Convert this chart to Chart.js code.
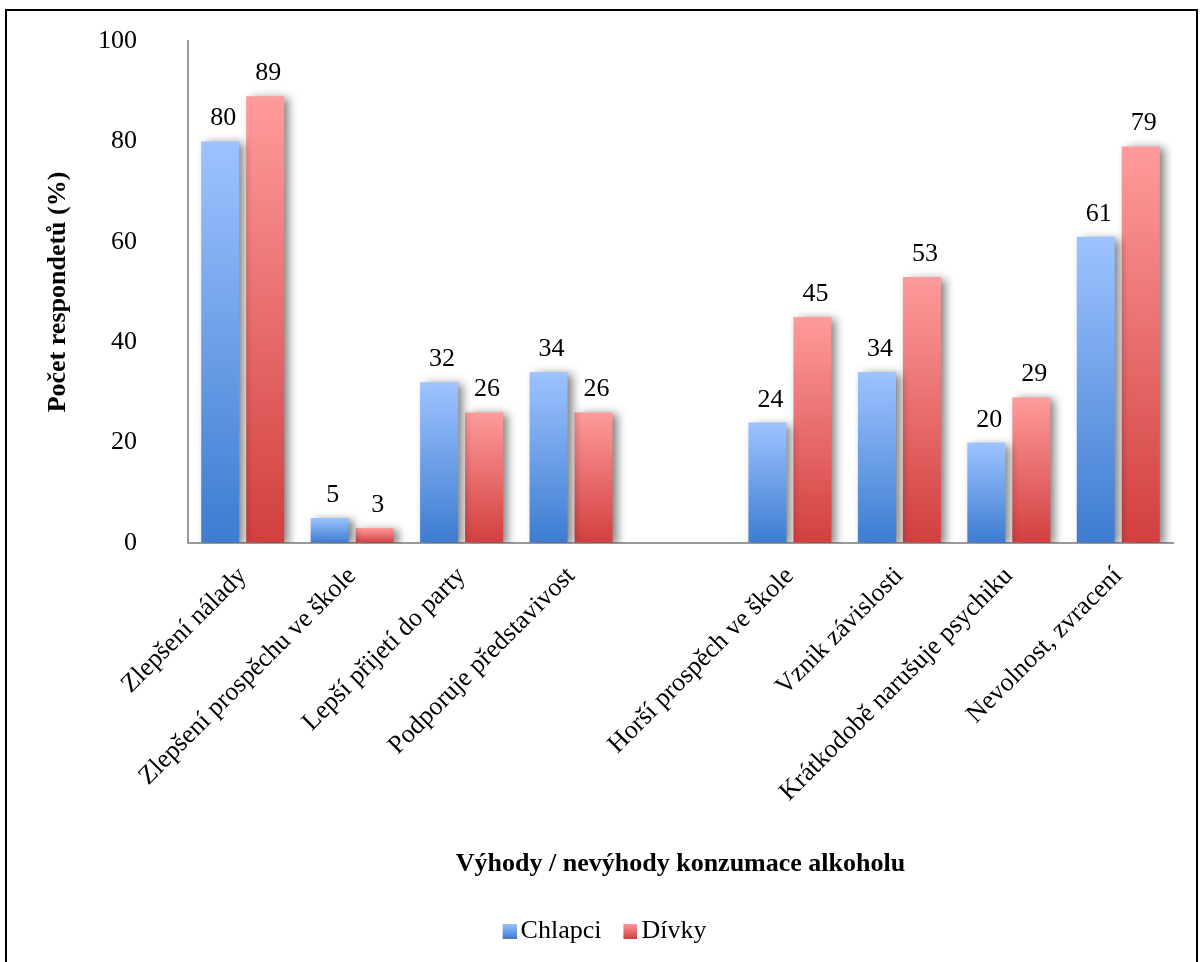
<!DOCTYPE html>
<html>
<head>
<meta charset="utf-8">
<script src="https://cdn.jsdelivr.net/npm/chart.js@4/dist/chart.umd.min.js"></script>
<style>
  html, body { margin: 0; padding: 0; background: #fff; }
  body { width: 1204px; height: 962px; position: relative; overflow: hidden; }
  #frame { position: absolute; left: 5px; top: 9px; width: 1193px; height: 1000px; border: 2px solid #000; box-sizing: border-box; }
  #c { position: absolute; left: 0; top: 0; }
</style>
</head>
<body>
<div id="frame"></div>
<canvas id="c" width="1204" height="962"></canvas>
<script>
// Categories (the blank slot separates advantages from disadvantages)
const categories = [
  'Zlepšení nálady',
  'Zlepšení prospěchu ve škole',
  'Lepší přijetí do party',
  'Podporuje představivost',
  '',
  'Horší prospěch ve škole',
  'Vznik závislosti',
  'Krátkodobě narušuje psychiku',
  'Nevolnost, zvracení'
];
const chlapci = [80, 5, 32, 34, null, 24, 34, 20, 61];
const divky   = [89, 3, 26, 26, null, 45, 53, 29, 79];
const seriesNames = ['Chlapci', 'Dívky'];
const yTicks = [0, 20, 40, 60, 80, 100];

const SERIF = "'Liberation Serif', 'Times New Roman', serif";
const palette = {
  Chlapci: { top: '#9dc3ff', bottom: '#3d7cd0' },
  'Dívky': { top: '#ff9b9b', bottom: '#d23f3f' }
};

function barGradient(name) {
  return function (ctx) {
    const chart = ctx.chart;
    const col = palette[name];
    if (!chart.chartArea || ctx.type !== 'data' || ctx.raw == null) return col.top;
    const y = chart.scales.y;
    const top = y.getPixelForValue(ctx.raw);
    const bot = y.getPixelForValue(0);
    const g = chart.ctx.createLinearGradient(0, top, 0, bot);
    g.addColorStop(0, col.top);
    g.addColorStop(1, col.bottom);
    return g;
  };
}

// Legend swatch: 14x15 gradient square sitting at the right of a transparent strip
function swatch(name) {
  const cv = document.createElement('canvas');
  cv.width = 19; cv.height = 15;
  const c = cv.getContext('2d');
  const g = c.createLinearGradient(0, 0, 0, 15);
  g.addColorStop(0, palette[name].top);
  g.addColorStop(1, palette[name].bottom);
  c.fillStyle = g;
  c.fillRect(5, 0, 14, 15);
  return cv;
}

// Soft drop shadow behind the bars, then value labels on top
const barDecor = {
  id: 'barDecor',
  beforeDatasetsDraw(chart) {
    const c = chart.ctx;
    c.save();
    c.shadowColor = 'rgba(0,0,0,0.5)';
    c.shadowBlur = 9;
    c.shadowOffsetX = 5;
    c.shadowOffsetY = 2;
  },
  afterDatasetsDraw(chart) {
    const c = chart.ctx;
    c.restore();
    c.save();
    c.font = '26px ' + SERIF;
    c.fillStyle = '#000';
    c.textAlign = 'center';
    c.textBaseline = 'alphabetic';
    chart.data.datasets.forEach((ds, di) => {
      const meta = chart.getDatasetMeta(di);
      meta.data.forEach((el, i) => {
        const v = ds.data[i];
        if (v == null) return;
        c.fillText(String(v), el.x + 3, el.y - 16);
      });
    });
    c.restore();
  }
};

const LEGEND_BOTTOM_PAD = 8;
const LEFT_PAD = 40;

new Chart(document.getElementById('c'), {
  type: 'bar',
  data: {
    labels: categories,
    datasets: [
      { label: seriesNames[0], data: chlapci, backgroundColor: barGradient('Chlapci'), borderWidth: 0 },
      { label: seriesNames[1], data: divky, backgroundColor: barGradient('Dívky'), borderWidth: 0 }
    ]
  },
  options: {
    responsive: false,
    animation: false,
    devicePixelRatio: 1,
    categoryPercentage: 0.822,
    barPercentage: 0.845,
    layout: { padding: { top: 41, right: 31, left: LEFT_PAD, bottom: LEGEND_BOTTOM_PAD } },
    plugins: {
      tooltip: { enabled: false },
      legend: {
        position: 'bottom',
        labels: {
          font: { family: SERIF, size: 26 },
          color: '#000',
          usePointStyle: true,
          boxWidth: 1,
          boxHeight: 15,
          padding: 26,
          generateLabels(chart) {
            return chart.data.datasets.map((ds, i) => ({
              text: ds.label,
              pointStyle: swatch(ds.label),
              fillStyle: palette[ds.label].top,
              strokeStyle: 'transparent',
              lineWidth: 0,
              hidden: false,
              datasetIndex: i,
              fontColor: '#000'
            }));
          }
        }
      }
    },
    scales: {
      x: {
        grid: { display: false, drawTicks: false },
        border: { display: true, color: '#9a9a9a', width: 2 },
        ticks: {
          autoSkip: false,
          maxRotation: 45,
          minRotation: 45,
          padding: 18,
          color: '#000',
          font: { family: SERIF, size: 26 }
        },
        title: {
          display: true,
          text: 'Výhody / nevýhody konzumace alkoholu',
          color: '#000',
          font: { family: SERIF, size: 26, weight: 'bold' },
          padding: { top: 0, bottom: 12 }
        },
        afterFit(scale) {
          const lg = scale.chart.legend;
          const lh = lg && lg.height ? lg.height : 60;
          scale.height = 962 - 543 - LEGEND_BOTTOM_PAD - lh;
        }
      },
      y: {
        min: 0,
        max: 100,
        afterBuildTicks(scale) { scale.ticks = yTicks.map(v => ({ value: v })); },
        grid: { display: true, drawOnChartArea: false, drawTicks: true, tickLength: 48, tickColor: 'rgba(0,0,0,0)' },
        border: { display: true, color: '#9a9a9a', width: 2 },
        ticks: {
          padding: 3,
          color: '#000',
          font: { family: SERIF, size: 26 }
        },
        title: {
          display: true,
          text: 'Počet respondetů (%)',
          color: '#000',
          font: { family: SERIF, size: 26, weight: 'bold' },
          padding: { top: 3, bottom: 0 }
        },
        afterFit(scale) { scale.width = 188 - LEFT_PAD; }
      }
    }
  },
  plugins: [barDecor]
});
</script>
</body>
</html>
